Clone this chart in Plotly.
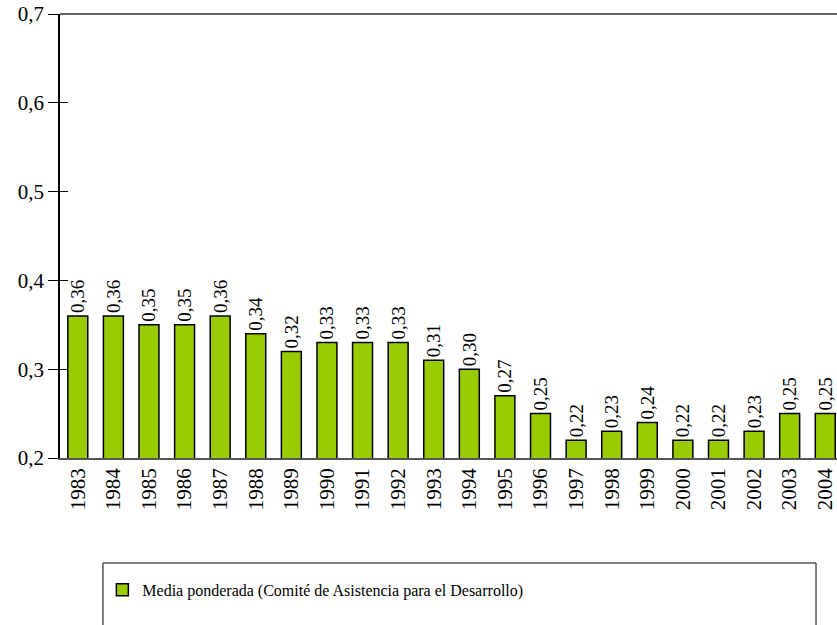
import plotly.graph_objects as go

# datos
years = [str(y) for y in range(1983, 2005)]
media_cad = [0.36, 0.36, 0.35, 0.35, 0.36, 0.34, 0.32, 0.33, 0.33, 0.33, 0.31,
             0.30, 0.27, 0.25, 0.22, 0.23, 0.24, 0.22, 0.22, 0.23, 0.25, 0.25]
y_ticks = [0.2, 0.3, 0.4, 0.5, 0.6, 0.7]
serie = "Media ponderada (Comité de Asistencia para el Desarrollo)"

FONT = "Liberation Serif, Times New Roman, serif"

fig = go.Figure()
fig.add_trace(go.Bar(
    x=years, y=media_cad, name=serie,
    marker=dict(color="#99CC00", line=dict(color="black", width=1.5)),
    texttemplate="%{y:.2f}", textposition="outside", textangle=-90,
    constraintext="none",
    textfont=dict(family=FONT, size=19, color="black"),
    cliponaxis=False,
))
# ticks hacia dentro (segundo eje superpuesto)
fig.add_trace(go.Scatter(x=years[:1], y=[None], yaxis="y2", showlegend=False,
                         hoverinfo="skip"))

fig.update_layout(
    width=837, height=625,
    margin=dict(l=60, r=0, t=14, b=167),
    plot_bgcolor="white", paper_bgcolor="white",
    separators=", ",
    bargap=0.44,
    font=dict(family=FONT, size=16, color="black"),
    xaxis=dict(range=[-0.5, 21.33], tickangle=-90, showline=True,
               linecolor="#555", linewidth=1.5, ticks="",
               tickfont=dict(size=21)),
    yaxis=dict(range=[0.2, 0.7], tickvals=y_ticks, tickformat=".1f",
               showgrid=False, zeroline=False, showline=True,
               linecolor="black", linewidth=1.5, ticks="outside",
               ticklen=10, tickcolor="black", tickwidth=1,
               ticklabeloverflow="allow", tickfont=dict(size=21)),
    yaxis2=dict(range=[0.2, 0.7], tickvals=y_ticks, overlaying="y",
                showticklabels=False, showgrid=False, zeroline=False,
                ticks="inside", ticklen=8, tickcolor="black", tickwidth=1),
    showlegend=True,
    legend=dict(x=0.0545, y=-0.297, xanchor="left", yanchor="middle",
                bgcolor="rgba(0,0,0,0)", font=dict(size=16)),
    shapes=[
        dict(type="line", xref="paper", yref="paper", x0=0, x1=1, y0=1, y1=1,
             line=dict(color="#666", width=2)),
        dict(type="rect", xref="paper", yref="paper", x0=0.0553, x1=0.973,
             y0=-0.39, y1=-0.2365, line=dict(color="black", width=1)),
    ],
)

# quitar el margen del body para que la figura ocupe la ventana entera
fig.write_html("out.html", config={"displayModeBar": False},
               post_script="document.body.style.margin='0';")
